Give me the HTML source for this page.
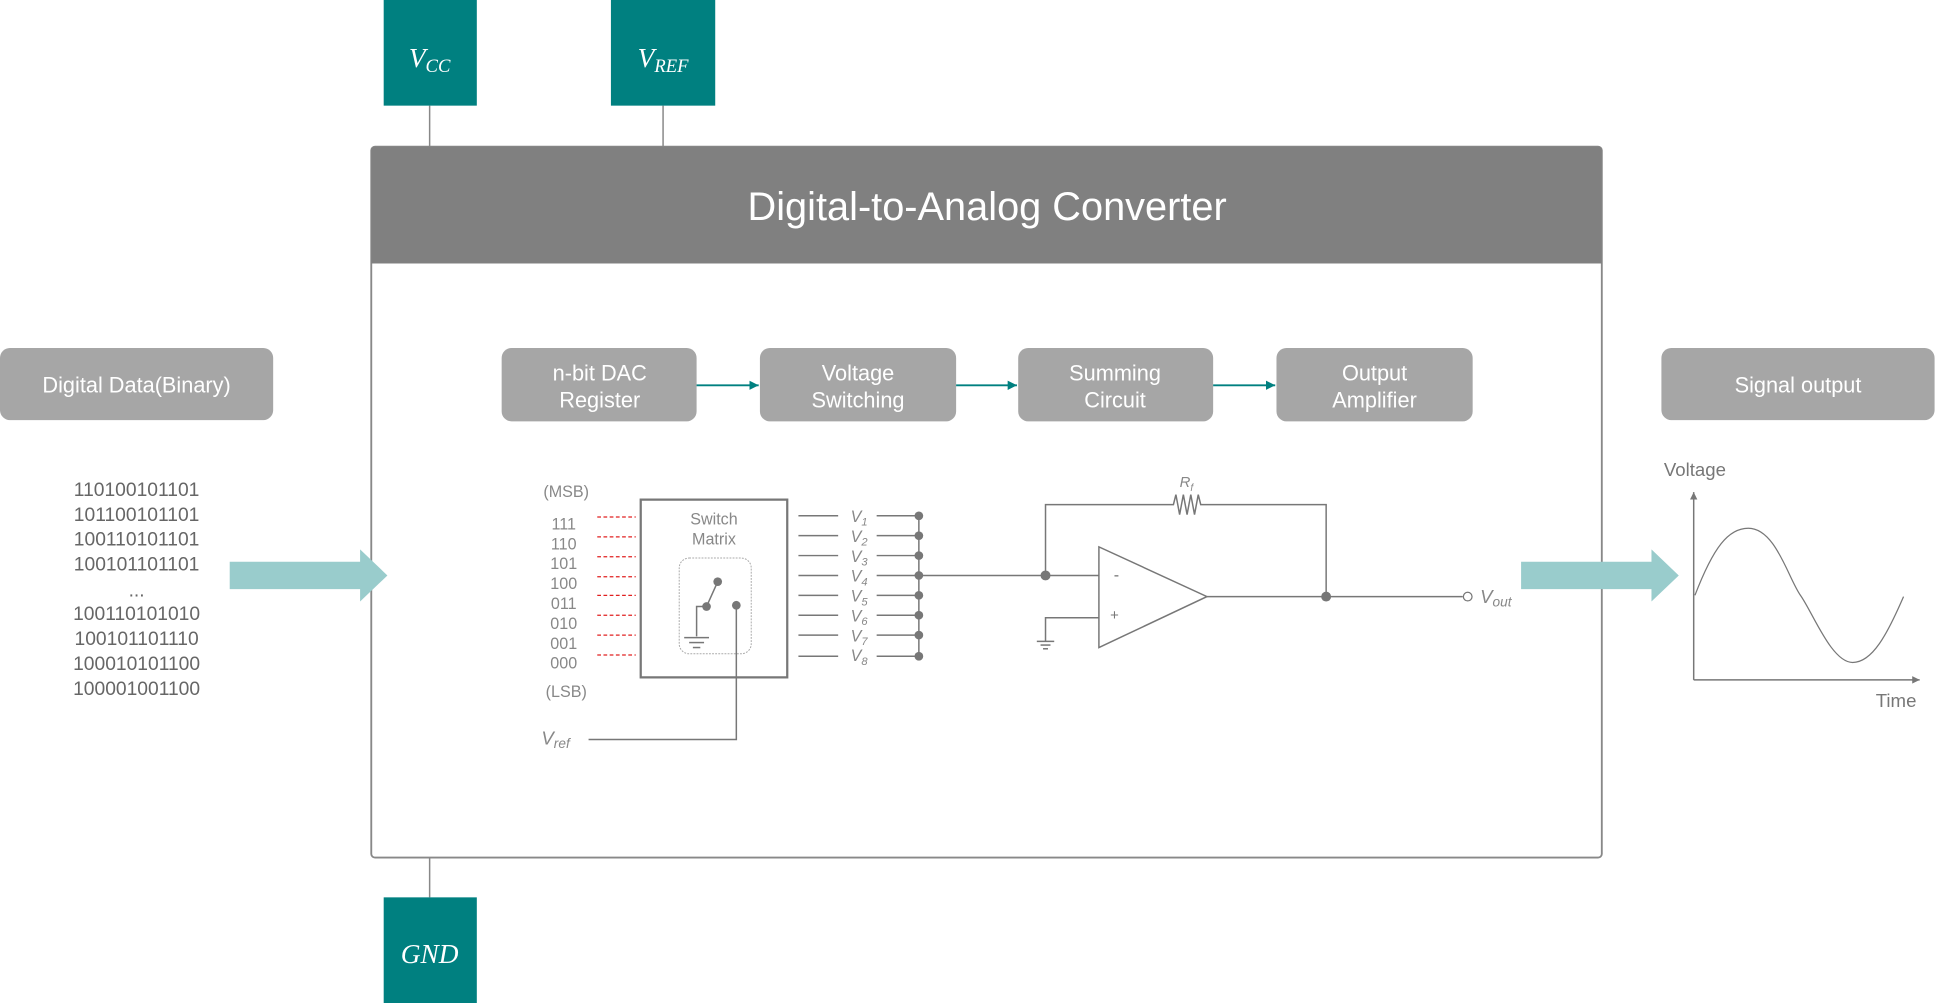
<!DOCTYPE html>
<html><head><meta charset="utf-8"><style>
html,body{margin:0;padding:0;background:#fff;overflow:hidden}
svg{display:block}
text{font-family:"Liberation Sans",sans-serif}
.m{font-family:"Liberation Serif",serif;font-style:italic}
</style></head><body>
<svg width="1947" height="1003" viewBox="0 0 1568 807" preserveAspectRatio="none" xmlns="http://www.w3.org/2000/svg">
<defs>
<marker id="ta" viewBox="0 0 10 10" refX="10" refY="5" markerWidth="5" markerHeight="5" orient="auto"><path d="M0,0L10,5L0,10z" fill="#008080"/></marker>
<marker id="ga" viewBox="0 0 10 10" refX="10" refY="5" markerWidth="5" markerHeight="5" orient="auto"><path d="M0,0L10,5L0,10z" fill="#777"/></marker>
</defs>
<g stroke="#888" stroke-width="1.2">
<line x1="346" y1="85" x2="346" y2="118"/><line x1="534" y1="85" x2="534" y2="118"/><line x1="346" y1="690" x2="346" y2="722"/>
</g>
<rect x="309" y="0" width="75" height="85" fill="#008080"/>
<rect x="492" y="0" width="84" height="85" fill="#008080"/>
<rect x="309" y="722" width="75" height="86" fill="#008080"/>
<text x="346" y="54" class="m" fill="#fff" font-size="22" text-anchor="middle">V<tspan font-size="15" dy="4">CC</tspan></text>
<text x="534" y="54" class="m" fill="#fff" font-size="22" text-anchor="middle">V<tspan font-size="15" dy="4">REF</tspan></text>
<text x="346" y="775" class="m" fill="#fff" font-size="22" text-anchor="middle">GND</text>
<rect x="299" y="118" width="991" height="572" rx="3" fill="#fff" stroke="#888" stroke-width="1.5"/>
<path d="M299,212V121a3,3 0 0 1 3,-3H1287a3,3 0 0 1 3,3V212z" fill="#808080"/>
<text x="795" y="177" fill="#fff" font-size="32" text-anchor="middle">Digital-to-Analog Converter</text>
<g fill="#a6a6a6">
<rect x="0" y="280" width="220" height="58" rx="8"/>
<rect x="404" y="280" width="157" height="59" rx="8"/>
<rect x="612" y="280" width="158" height="59" rx="8"/>
<rect x="820" y="280" width="157" height="59" rx="8"/>
<rect x="1028" y="280" width="158" height="59" rx="8"/>
<rect x="1338" y="280" width="220" height="58" rx="8"/>
</g>
<g fill="#fff" font-size="17.5" text-anchor="middle">
<text x="110" y="316">Digital Data(Binary)</text>
<text x="483" y="306">n-bit DAC</text><text x="483" y="328">Register</text>
<text x="691" y="306">Voltage</text><text x="691" y="328">Switching</text>
<text x="898" y="306">Summing</text><text x="898" y="328">Circuit</text>
<text x="1107" y="306">Output</text><text x="1107" y="328">Amplifier</text>
<text x="1448" y="316">Signal output</text>
</g>
<g stroke="#008080" stroke-width="1.5" marker-end="url(#ta)">
<line x1="561" y1="310" x2="611" y2="310"/><line x1="770" y1="310" x2="819" y2="310"/><line x1="977" y1="310" x2="1027" y2="310"/>
</g>
<g fill="#666" font-size="15.5" text-anchor="middle">
<text x="110" y="399">110100101101</text><text x="110" y="419">101100101101</text><text x="110" y="439">100110101101</text><text x="110" y="459">100101101101</text>
<text x="110" y="480">...</text>
<text x="110" y="499">100110101010</text><text x="110" y="519">100101101110</text><text x="110" y="539">100010101100</text><text x="110" y="559">100001001100</text>
</g>
<path d="M185,452H290V442L312,463L290,484V474H185z" fill="#99cccc"/>
<path d="M1225,452H1330V442L1352,463L1330,484V474H1225z" fill="#99cccc"/>
<g fill="#888" font-size="13" text-anchor="middle">
<text x="456" y="400">(MSB)</text><text x="456" y="561">(LSB)</text>
<text x="454" y="426">111</text><text x="454" y="442">110</text><text x="454" y="458">101</text><text x="454" y="474">100</text>
<text x="454" y="490">011</text><text x="454" y="506">010</text><text x="454" y="522">001</text><text x="454" y="538">000</text>
<text x="575" y="422">Switch</text><text x="575" y="438">Matrix</text>
</g>
<g stroke="#e02020" stroke-width="1" stroke-dasharray="3,2">
<line x1="481" y1="416" x2="512" y2="416"/><line x1="481" y1="432" x2="512" y2="432"/><line x1="481" y1="448" x2="512" y2="448"/><line x1="481" y1="464" x2="512" y2="464"/>
<line x1="481" y1="479" x2="512" y2="479"/><line x1="481" y1="495" x2="512" y2="495"/><line x1="481" y1="511" x2="512" y2="511"/><line x1="481" y1="527" x2="512" y2="527"/>
</g>
<rect x="516" y="402" width="118" height="143" fill="none" stroke="#777" stroke-width="1.8"/>
<rect x="547" y="449" width="58" height="77" rx="8" fill="none" stroke="#aaa" stroke-width="0.8" stroke-dasharray="1.5,1"/>
<g stroke="#777" stroke-width="1.2" fill="none">
<line x1="578" y1="468" x2="569" y2="488"/>
<polyline points="569,488 561,488 561,512"/>
<line x1="551" y1="513" x2="571" y2="513"/><line x1="555" y1="517" x2="567" y2="517"/><line x1="558" y1="521" x2="564" y2="521"/>
<polyline points="593,487 593,595 474,595"/>
<line x1="740" y1="415" x2="740" y2="528"/>
<line x1="740" y1="463" x2="885" y2="463"/>
<polyline points="842,463 842,406 945,406 947,398 950,414 953,398 956,414 959,398 962,414 965,398 967,406 1068,406 1068,480"/>
<polygon points="885,440 885,521 972,480"/>
<polyline points="885,497 842,497 842,516"/>
<line x1="835" y1="516" x2="849" y2="516"/><line x1="838" y1="519" x2="846" y2="519"/><line x1="840" y1="522" x2="844" y2="522"/>
<line x1="972" y1="480" x2="1178" y2="480"/>
<circle cx="1182" cy="480" r="3.5" stroke-width="1"/>
</g>
<g stroke="#777" stroke-width="1.2">
<line x1="643" y1="415" x2="675" y2="415"/><line x1="706" y1="415" x2="740" y2="415"/>
<line x1="643" y1="431" x2="675" y2="431"/><line x1="706" y1="431" x2="740" y2="431"/>
<line x1="643" y1="447" x2="675" y2="447"/><line x1="706" y1="447" x2="740" y2="447"/>
<line x1="643" y1="463" x2="675" y2="463"/><line x1="706" y1="463" x2="740" y2="463"/>
<line x1="643" y1="479" x2="675" y2="479"/><line x1="706" y1="479" x2="740" y2="479"/>
<line x1="643" y1="495" x2="675" y2="495"/><line x1="706" y1="495" x2="740" y2="495"/>
<line x1="643" y1="511" x2="675" y2="511"/><line x1="706" y1="511" x2="740" y2="511"/>
<line x1="643" y1="528" x2="675" y2="528"/><line x1="706" y1="528" x2="740" y2="528"/>
</g>
<g fill="#777">
<circle cx="740" cy="415" r="3.5"/><circle cx="740" cy="431" r="3.5"/><circle cx="740" cy="447" r="3.5"/><circle cx="740" cy="463" r="3.5"/>
<circle cx="740" cy="479" r="3.5"/><circle cx="740" cy="495" r="3.5"/><circle cx="740" cy="511" r="3.5"/><circle cx="740" cy="528" r="3.5"/>
<circle cx="578" cy="468" r="3.5"/><circle cx="569" cy="488" r="3.5"/><circle cx="593" cy="487" r="3.5"/>
<circle cx="842" cy="463" r="4"/><circle cx="1068" cy="480" r="4"/>
</g>
<g class="m" fill="#888" font-size="13">
<text x="685" y="420">V<tspan font-size="9" dy="3">1</tspan></text>
<text x="685" y="436">V<tspan font-size="9" dy="3">2</tspan></text>
<text x="685" y="452">V<tspan font-size="9" dy="3">3</tspan></text>
<text x="685" y="468">V<tspan font-size="9" dy="3">4</tspan></text>
<text x="685" y="484">V<tspan font-size="9" dy="3">5</tspan></text>
<text x="685" y="500">V<tspan font-size="9" dy="3">6</tspan></text>
<text x="685" y="516">V<tspan font-size="9" dy="3">7</tspan></text>
<text x="685" y="532">V<tspan font-size="9" dy="3">8</tspan></text>
<text x="436" y="599" font-size="15">V<tspan font-size="11" dy="3">ref</tspan></text>
<text x="1192" y="485" font-size="15">V<tspan font-size="11" dy="3">out</tspan></text>
<text x="950" y="392" font-size="12">R<tspan font-size="8" dy="3">f</tspan></text>
</g>
<text x="897" y="467" fill="#777" font-size="13">-</text>
<text x="894" y="499" fill="#777" font-size="12">+</text>
<g stroke="#777" stroke-width="1.2" fill="none">
<line x1="1364" y1="547" x2="1364" y2="396" marker-end="url(#ga)"/>
<line x1="1364" y1="547" x2="1546" y2="547" marker-end="url(#ga)"/>
<path d="M1365,479 C1380,440 1392,425 1408,425 C1430,425 1440,465 1450,479 S1475,533 1492,533 C1508,533 1520,510 1533,480" stroke-width="1"/>
</g>
<text x="1365" y="383" fill="#777" font-size="15" text-anchor="middle">Voltage</text>
<text x="1527" y="569" fill="#777" font-size="15" text-anchor="middle">Time</text>
</svg>
</body></html>
